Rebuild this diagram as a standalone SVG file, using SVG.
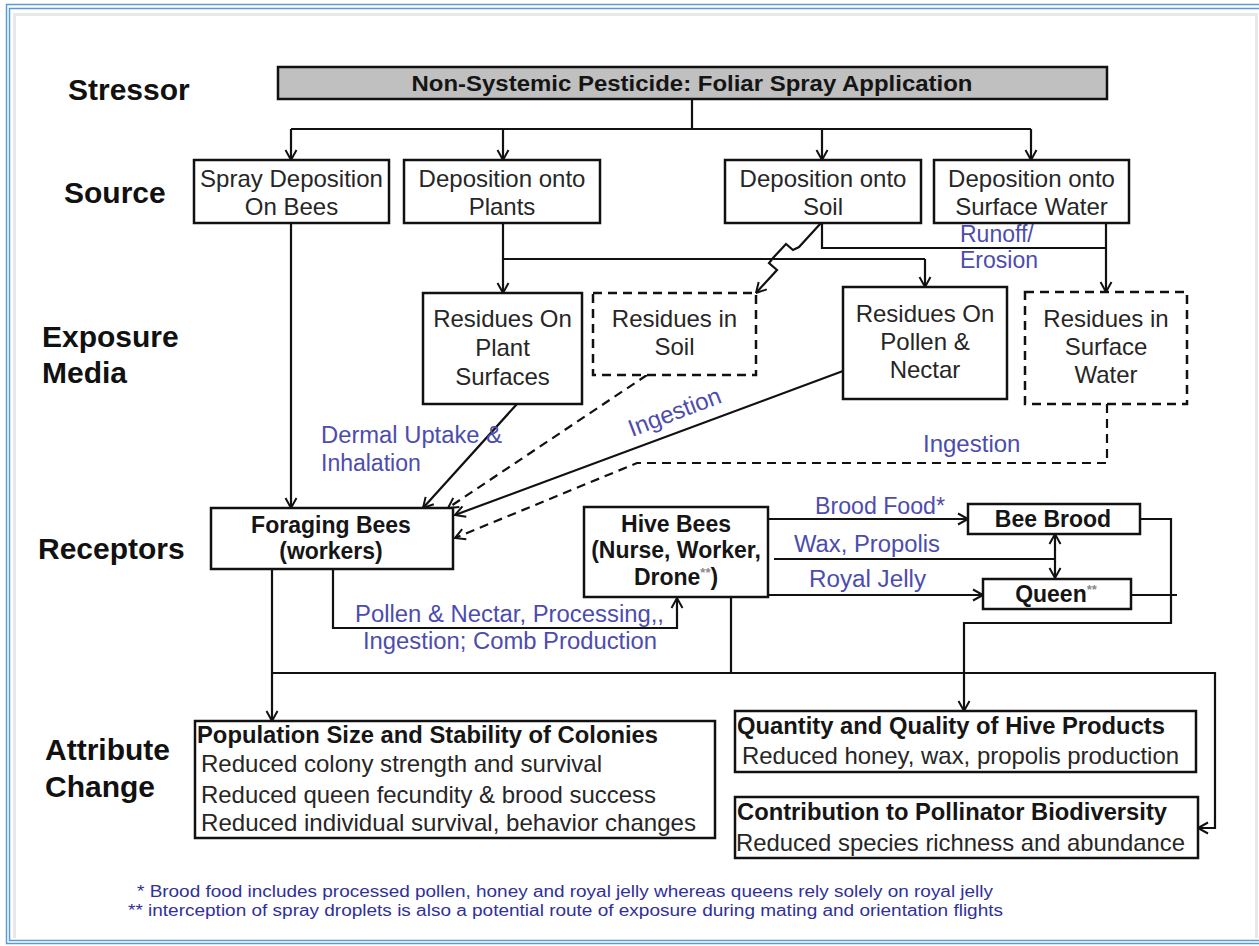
<svg xmlns="http://www.w3.org/2000/svg" width="1259" height="946" viewBox="0 0 1259 946">
  <defs>
    <marker id="arr" viewBox="0 0 12 12" refX="10" refY="6" markerWidth="12" markerHeight="12" markerUnits="userSpaceOnUse" orient="auto-start-reverse" overflow="visible">
      <path d="M0,0.5 L10,6 L0,11.5" fill="none" stroke="#111" stroke-width="2" stroke-dasharray="none"/>
    </marker>
    <style>
      .box { fill: #fff; stroke: #111; stroke-width: 2.5; }
      .dbox { fill: #fff; stroke: #111; stroke-width: 2.5; stroke-dasharray: 9 6; }
      .ln { fill: none; stroke: #111; stroke-width: 2.2; }
      .dl { fill: none; stroke: #111; stroke-width: 2.2; stroke-dasharray: 9 6; }
      text { font-family: "Liberation Sans", Arial, sans-serif; fill: #262626; }
      .t { font-size: 24px; }
      .c { text-anchor: middle; }
      .b { font-weight: bold; font-size: 23px; fill: #151515; }
      .lab { font-weight: bold; font-size: 30px; fill: #111; }
      .blue { font-size: 23px; fill: #4c4cae; }
      .fn { font-size: 16px; fill: #30309a; }
      .sup { font-size: 13px; fill: #8a8a8a; }
    </style>
  </defs>

  <!-- page frame -->
  <rect x="0" y="0" width="1259" height="946" fill="#fff"/>
  <g fill="none">
    <path d="M1259,4.5 H6.5 V943.5 H1259" stroke="#5b9bd5" stroke-width="1.5"/>
    <path d="M1259,8.5 H9.5 V940.5 H1259" stroke="#5b9bd5" stroke-width="1.5"/>
    <path d="M14.5,938 V14.5 H1256.5 V938" stroke="#e8e8e8" stroke-width="3"/>
  </g>

  <!-- tier labels -->
  <g id="tier-labels">
    <text class="lab" x="68" y="100">Stressor</text>
    <text class="lab" x="64" y="203">Source</text>
    <text class="lab" x="42" y="347">Exposure</text>
    <text class="lab" x="42" y="383">Media</text>
    <text class="lab" x="38" y="559">Receptors</text>
    <text class="lab" x="45" y="760">Attribute</text>
    <text class="lab" x="45" y="797">Change</text>
  </g>

  <!-- connectors -->
  <g id="connectors">
    <!-- stressor fan-out -->
    <path class="ln" d="M692,99 V129"/>
    <path class="ln" d="M291,129 H1031"/>
    <path class="ln" d="M291,129 V160" marker-end="url(#arr)"/>
    <path class="ln" d="M503,129 V160" marker-end="url(#arr)"/>
    <path class="ln" d="M822,129 V160" marker-end="url(#arr)"/>
    <path class="ln" d="M1031,129 V160" marker-end="url(#arr)"/>

    <!-- plants to residues -->
    <path class="ln" d="M503,223 V259 H925"/>
    <path class="ln" d="M503,259 V293" marker-end="url(#arr)"/>
    <path class="ln" d="M925,259 V287" marker-end="url(#arr)"/>

    <!-- soil -->
    <path class="ln" d="M822,223 V248 H1106"/>
    <path class="ln" d="M821,223 L799,247 L793,250 L786,244 L773,258 L769,263 L777,270 L756,293" marker-end="url(#arr)"/>

    <!-- surface water -->
    <path class="ln" d="M1106,223 V292" marker-end="url(#arr)"/>

    <!-- exposure routes to foraging bees -->
    <path class="ln" d="M291,223 V508" marker-end="url(#arr)"/>
    <path class="ln" d="M517,404 L423,508" marker-end="url(#arr)"/>
    <path class="dl" d="M647,375 L448,508" marker-end="url(#arr)"/>
    <path class="ln" d="M843,371 L455,515" marker-end="url(#arr)"/>
    <path class="dl" d="M1107,404 V463 H637 L455,538" marker-end="url(#arr)"/>

    <!-- foraging to hive -->
    <path class="ln" d="M333,569 V628 H677 V598" marker-end="url(#arr)"/>

    <!-- hive to brood / queen -->
    <path class="ln" d="M767,519 H968" marker-end="url(#arr)"/>
    <path class="ln" d="M774,559 H1055"/>
    <path class="ln" d="M1055,534 V578" marker-start="url(#arr)" marker-end="url(#arr)"/>
    <path class="ln" d="M768,595 H983" marker-end="url(#arr)"/>

    <!-- brood / queen to hive products -->
    <path class="ln" d="M1140,519 H1171 V623 H964 V711" marker-end="url(#arr)"/>
    <path class="ln" d="M1131,595 H1177"/>

    <!-- receptors to attribute changes -->
    <path class="ln" d="M272,569 V721" marker-end="url(#arr)"/>
    <path class="ln" d="M731,597 V673"/>
    <path class="ln" d="M272,673 H1215 V828 H1198" marker-end="url(#arr)"/>
  </g>

  <!-- route labels -->
  <g id="route-labels">
    <text class="blue" x="960" y="242">Runoff/</text>
    <text class="blue" x="960" y="268">Erosion</text>
    <text class="blue" x="321" y="443" textLength="181" lengthAdjust="spacingAndGlyphs">Dermal Uptake &amp;</text>
    <text class="blue" x="321" y="471">Inhalation</text>
    <text class="blue" x="632" y="437" transform="rotate(-21 632 437)" style="font-size:24px">Ingestion</text>
    <text class="blue" x="923" y="452" style="font-size:24px">Ingestion</text>
    <text class="blue" x="815" y="514" textLength="130" lengthAdjust="spacingAndGlyphs">Brood Food*</text>
    <text class="blue" x="794" y="552" textLength="146" lengthAdjust="spacingAndGlyphs">Wax, Propolis</text>
    <text class="blue" x="809" y="587" textLength="117" lengthAdjust="spacingAndGlyphs">Royal Jelly</text>
    <text class="blue" x="355" y="622" textLength="309" lengthAdjust="spacingAndGlyphs">Pollen &amp; Nectar, Processing,,</text>
    <text class="blue" x="363" y="649" textLength="294" lengthAdjust="spacingAndGlyphs">Ingestion;  Comb Production</text>
  </g>

  <!-- stressor -->
  <g id="stressor">
    <rect x="278" y="67" width="829" height="32" fill="#c0c0c0" stroke="#111" stroke-width="2.5"/>
    <text class="b c" x="692" y="91" style="font-size:22px" textLength="561" lengthAdjust="spacingAndGlyphs">Non-Systemic Pesticide: Foliar Spray Application</text>
  </g>

  <!-- sources -->
  <g id="src-bees">
    <rect class="box" x="194" y="160" width="195" height="63"/>
    <text class="t c" x="291.5" y="187">Spray Deposition</text>
    <text class="t c" x="291.5" y="215">On Bees</text>
  </g>
  <g id="src-plants">
    <rect class="box" x="404" y="160" width="196" height="63"/>
    <text class="t c" x="502" y="187">Deposition onto</text>
    <text class="t c" x="502" y="215">Plants</text>
  </g>
  <g id="src-soil">
    <rect class="box" x="725" y="160" width="196" height="63"/>
    <text class="t c" x="823" y="187">Deposition onto</text>
    <text class="t c" x="823" y="215">Soil</text>
  </g>
  <g id="src-water">
    <rect class="box" x="934" y="160" width="195" height="63"/>
    <text class="t c" x="1031.5" y="187">Deposition onto</text>
    <text class="t c" x="1031.5" y="215">Surface Water</text>
  </g>

  <!-- exposure media -->
  <g id="med-plant">
    <rect class="box" x="423" y="293" width="159" height="111"/>
    <text class="t c" x="502.5" y="327">Residues On</text>
    <text class="t c" x="502.5" y="356">Plant</text>
    <text class="t c" x="502.5" y="385">Surfaces</text>
  </g>
  <g id="med-soil">
    <rect class="dbox" x="593" y="293" width="163" height="82"/>
    <text class="t c" x="674.5" y="327">Residues in</text>
    <text class="t c" x="674.5" y="355">Soil</text>
  </g>
  <g id="med-pollen">
    <rect class="box" x="843" y="287" width="164" height="112"/>
    <text class="t c" x="925" y="322">Residues On</text>
    <text class="t c" x="925" y="350">Pollen &amp;</text>
    <text class="t c" x="925" y="378">Nectar</text>
  </g>
  <g id="med-water">
    <rect class="dbox" x="1025" y="292" width="162" height="112"/>
    <text class="t c" x="1106" y="327">Residues in</text>
    <text class="t c" x="1106" y="355">Surface</text>
    <text class="t c" x="1106" y="383">Water</text>
  </g>

  <!-- receptors -->
  <g id="rec-foraging">
    <rect class="box" x="211" y="508" width="242" height="61"/>
    <text class="b c" x="331" y="533">Foraging Bees</text>
    <text class="b c" x="331" y="559">(workers)</text>
  </g>
  <g id="rec-hive">
    <rect class="box" x="584" y="507" width="184" height="90"/>
    <text class="b c" x="676" y="532">Hive Bees</text>
    <text class="b c" x="676" y="558">(Nurse, Worker,</text>
    <text class="b c" x="676" y="585">Drone<tspan class="sup" dy="-8">**</tspan><tspan dy="8">)</tspan></text>
  </g>
  <g id="rec-brood">
    <rect class="box" x="968" y="504" width="172" height="30"/>
    <text class="b c" x="1053" y="527">Bee Brood</text>
  </g>
  <g id="rec-queen">
    <rect class="box" x="983" y="579" width="148" height="30"/>
    <text class="b c" x="1056" y="602">Queen<tspan class="sup" dy="-8">**</tspan></text>
  </g>

  <!-- attribute changes -->
  <g id="att-population">
    <rect class="box" x="195" y="721" width="520" height="117"/>
    <text class="b" x="197" y="743" textLength="461" lengthAdjust="spacingAndGlyphs">Population Size and Stability of Colonies</text>
    <text class="t" x="201" y="772" textLength="401" lengthAdjust="spacingAndGlyphs">Reduced colony strength and survival</text>
    <text class="t" x="201" y="803" textLength="455" lengthAdjust="spacingAndGlyphs">Reduced queen fecundity &amp; brood success</text>
    <text class="t" x="201" y="831" textLength="495" lengthAdjust="spacingAndGlyphs">Reduced individual survival, behavior changes</text>
  </g>
  <g id="att-products">
    <rect class="box" x="735" y="711" width="461" height="61"/>
    <text class="b" x="737" y="734" textLength="428" lengthAdjust="spacingAndGlyphs">Quantity and Quality of Hive Products</text>
    <text class="t" x="742" y="764" textLength="437" lengthAdjust="spacingAndGlyphs">Reduced honey, wax, propolis production</text>
  </g>
  <g id="att-biodiversity">
    <rect class="box" x="735" y="797" width="463" height="61"/>
    <text class="b" x="737" y="820" textLength="430" lengthAdjust="spacingAndGlyphs">Contribution to Pollinator Biodiversity</text>
    <text class="t" x="736" y="851" textLength="449" lengthAdjust="spacingAndGlyphs">Reduced species richness and abundance</text>
  </g>

  <!-- footnotes -->
  <g id="footnotes">
    <text class="fn" x="137" y="897" textLength="856" lengthAdjust="spacingAndGlyphs">* Brood food includes processed pollen, honey and royal jelly whereas queens rely solely on royal jelly</text>
    <text class="fn" x="128" y="916" textLength="875" lengthAdjust="spacingAndGlyphs">** interception of spray droplets is also a potential route of exposure during mating and orientation flights</text>
  </g>
</svg>
